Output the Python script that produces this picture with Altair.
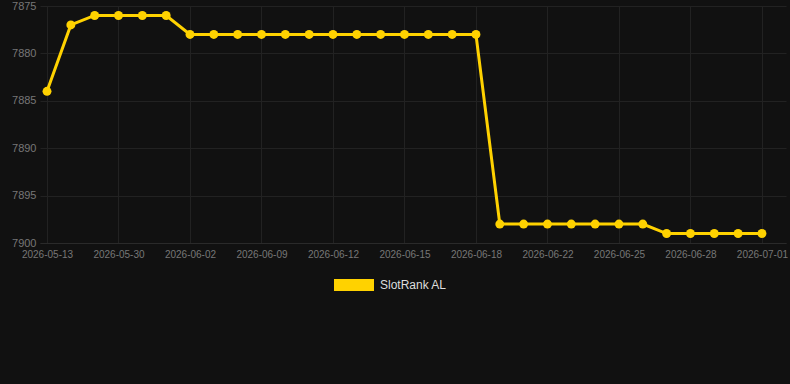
import altair as alt
import pandas as pd
import json

dates = [
    "2026-05-13", "2026-05-20", "2026-05-27", "2026-05-30", "2026-05-31", "2026-06-01",
    "2026-06-02", "2026-06-04", "2026-06-07", "2026-06-09", "2026-06-10", "2026-06-11",
    "2026-06-12", "2026-06-13", "2026-06-14", "2026-06-15", "2026-06-16", "2026-06-17",
    "2026-06-18", "2026-06-19", "2026-06-21", "2026-06-22", "2026-06-23", "2026-06-24",
    "2026-06-25", "2026-06-26", "2026-06-27", "2026-06-28", "2026-06-29", "2026-06-30",
    "2026-07-01",
]
ranks = [
    7884, 7877, 7876, 7876, 7876, 7876,
    7878, 7878, 7878, 7878, 7878, 7878,
    7878, 7878, 7878, 7878, 7878, 7878,
    7878, 7898, 7898, 7898, 7898, 7898,
    7898, 7898, 7899, 7899, 7899, 7899,
    7899,
]
series_name = "SlotRank AL"
y_ticks = [7875, 7880, 7885, 7890, 7895, 7900]
x_label_idx = list(range(0, len(dates), 3))

df = pd.DataFrame({
    "idx": list(range(len(dates))),
    "date": dates,
    "rank": ranks,
    "series": [series_name] * len(dates),
})

W, H = 746, 237
gold = "#FFD200"

label_expr = json.dumps(dates) + "[datum.value]"

x = alt.X(
    "idx:Q",
    scale=alt.Scale(domain=[-0.294, 31.01], nice=False, zero=False),
    axis=alt.Axis(
        values=x_label_idx, labelExpr=label_expr, labelAngle=0, labelColor="#777777",
        labelFontSize=10, labelFont="Arial", ticks=False, grid=True, gridColor="#222222",
        domain=True, domainColor="#2a2a2a", title=None, labelPadding=6,
    ),
)
y = alt.Y(
    "rank:Q",
    scale=alt.Scale(domain=[7875, 7900], reverse=True, nice=False, zero=False),
    axis=alt.Axis(
        values=y_ticks, format="d", labelColor="#777777", labelFontSize=11, labelFont="Arial",
        ticks=False, grid=True, gridColor="#222222", domain=False, title=None,
        labelPadding=4,
    ),
)

line = alt.Chart(df).mark_line(strokeWidth=3, color=gold).encode(
    x=x, y=y,
    color=alt.Color("series:N", scale=alt.Scale(domain=[series_name], range=[gold]), legend=None),
)
pts = alt.Chart(df).mark_point(filled=True, size=80, opacity=1, color=gold).encode(
    x=x, y=y,
    fill=alt.Fill(
        "series:N", scale=alt.Scale(domain=[series_name], range=[gold]),
        legend=alt.Legend(
            title=None, orient="none", legendX=294, legendY=259,
            symbolType="M-1,-0.3L1,-0.3L1,0.3L-1,0.3Z", symbolSize=1600,
            symbolStrokeWidth=0, symbolOpacity=1, labelColor="#dddddd", labelFontSize=12,
            labelFont="Arial", labelOffset=6,
        ),
    ),
)

chart = (
    alt.layer(line, pts)
    .resolve_scale(color="independent", fill="independent")
    .properties(
        width=W, height=H, background="#111111",
        padding={"left": 40, "top": 6, "right": 4, "bottom": 141},
        autosize=alt.AutoSizeParams(type="none"),
    )
    .configure_view(stroke=None)
)

chart.save("out.html", embed_options={"renderer": "svg", "actions": False})
